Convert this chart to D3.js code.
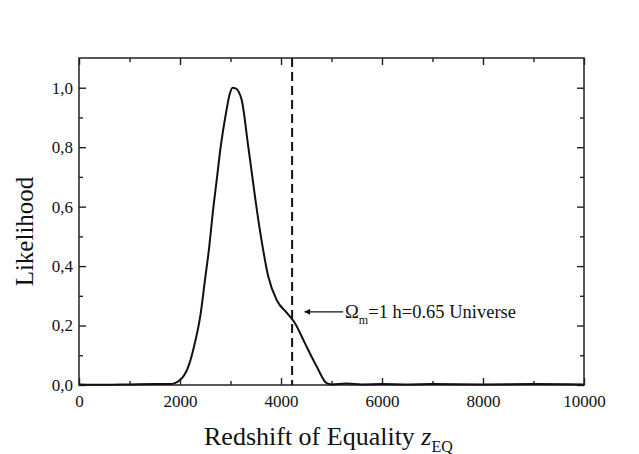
<!DOCTYPE html>
<html>
<head>
<meta charset="utf-8">
<script src="https://cdn.jsdelivr.net/npm/d3@7"></script>
<style>
  body { margin: 0; background: #fff; }
  svg { display: block; font-family: "Liberation Serif", "Times New Roman", serif; }
</style>
</head>
<body>
<svg id="svg" width="639" height="454"></svg>
<script>
// redshift of equality vs likelihood
var zEq = [0, 500, 1000, 1500, 1800, 2000, 2165, 2277, 2410, 2495, 2580, 2648, 2727, 2806, 2911, 2990,
    3040, 3100, 3220, 3353, 3571, 3749, 3914, 4125, 4277, 4475, 4707, 4905, 5000, 5300, 5600, 6000,
    6500, 7000, 8000, 9000, 10000];
var likelihood = [0.002, 0.001, 0.002, 0.003, 0.003, 0.017, 0.062, 0.129, 0.241, 0.354, 0.466, 0.578, 0.69, 0.802, 0.915, 0.982,
    1.0, 0.998, 0.96, 0.80, 0.533, 0.364, 0.286, 0.241, 0.208, 0.14, 0.062, 0.006, 0.002, 0.005, 0.002, 0.003,
    0.002, 0.003, 0.002, 0.003, 0.002];

var xTicks = [0, 2000, 4000, 6000, 8000, 10000];
var xMinor = [1000, 3000, 5000, 7000, 9000];
var yTicks = [0, 0.2, 0.4, 0.6, 0.8, 1.0];
var yTickLabels = ["0,0", "0,2", "0,4", "0,6", "0,8", "1,0"];
var yMinor = [0.1, 0.3, 0.5, 0.7, 0.9];

var universeZ = 4220;           // dashed line
var arrowFrom = [5230, 0.246];  // annotation arrow, data units
var arrowTo = [4470, 0.246];

var svg = d3.select("#svg");
var padding = {top: 58, right: 55, bottom: 69, left: 79};
var chartArea = {
    width: 639 - padding.left - padding.right,
    height: 454 - padding.top - padding.bottom
};

var xScale = d3.scaleLinear().domain([0, 10000]).range([0, chartArea.width]);
var yScale = d3.scaleLinear().domain([0, 1.1]).range([chartArea.height, 0]);

var g = svg.append("g")
    .attr("transform", "translate(" + padding.left + "," + padding.top + ")");

// axes, ticks pointing inward on all four sides
function styleAxis(sel) {
    sel.select(".domain").remove();
    sel.selectAll("line").attr("stroke", "#222").attr("stroke-width", 1.4);
    sel.selectAll("text").attr("fill", "#111").style("font-size", "17px")
        .style("font-family", "Liberation Serif, serif");
}

g.append("g")
    .attr("transform", "translate(0," + chartArea.height + ")")
    .call(d3.axisBottom(xScale).tickValues(xTicks).tickSize(-7).tickPadding(10).tickFormat(d3.format("d")))
    .call(styleAxis);
g.append("g")
    .attr("transform", "translate(0," + chartArea.height + ")")
    .call(d3.axisBottom(xScale).tickValues(xMinor).tickSize(-4).tickFormat(""))
    .call(styleAxis);
g.append("g")
    .call(d3.axisTop(xScale).tickValues(xTicks).tickSize(-7).tickFormat(""))
    .call(styleAxis);
g.append("g")
    .call(d3.axisTop(xScale).tickValues(xMinor).tickSize(-4).tickFormat(""))
    .call(styleAxis);

g.append("g")
    .call(d3.axisLeft(yScale).tickValues(yTicks).tickSize(-7).tickPadding(6)
        .tickFormat(function(d, i) { return yTickLabels[i]; }))
    .call(styleAxis);
g.append("g")
    .call(d3.axisLeft(yScale).tickValues(yMinor).tickSize(-4).tickFormat(""))
    .call(styleAxis);
g.append("g")
    .attr("transform", "translate(" + chartArea.width + ",0)")
    .call(d3.axisRight(yScale).tickValues(yTicks).tickSize(-7).tickFormat(""))
    .call(styleAxis);
g.append("g")
    .attr("transform", "translate(" + chartArea.width + ",0)")
    .call(d3.axisRight(yScale).tickValues(yMinor).tickSize(-4).tickFormat(""))
    .call(styleAxis);

// frame
g.append("rect")
    .attr("width", chartArea.width)
    .attr("height", chartArea.height)
    .attr("fill", "none")
    .attr("stroke", "#222")
    .attr("stroke-width", 1.5);

// dashed reference line
g.append("line")
    .attr("x1", xScale(universeZ)).attr("x2", xScale(universeZ))
    .attr("y1", 0).attr("y2", chartArea.height)
    .attr("stroke", "#111")
    .attr("stroke-width", 2)
    .attr("stroke-dasharray", "9,5");

// likelihood curve
var line = d3.line()
    .x(function(d, i) { return xScale(zEq[i]); })
    .y(function(d) { return yScale(d); })
    .curve(d3.curveMonotoneX);

g.append("path")
    .datum(likelihood)
    .attr("d", line)
    .attr("fill", "none")
    .attr("stroke", "#111")
    .attr("stroke-width", 2);

// annotation
svg.append("defs").append("marker")
    .attr("id", "arrow")
    .attr("viewBox", "0 0 10 10")
    .attr("refX", 9).attr("refY", 5)
    .attr("markerWidth", 10).attr("markerHeight", 6)
    .attr("markerUnits", "userSpaceOnUse")
    .attr("orient", "auto")
    .append("path")
    .attr("d", "M0,0 L10,5 L0,10 Z")
    .attr("fill", "#111");

g.append("line")
    .attr("x1", xScale(arrowFrom[0])).attr("y1", yScale(arrowFrom[1]))
    .attr("x2", xScale(arrowTo[0])).attr("y2", yScale(arrowTo[1]))
    .attr("stroke", "#111")
    .attr("stroke-width", 1.2)
    .attr("marker-end", "url(#arrow)");

var note = g.append("text")
    .attr("x", xScale(arrowFrom[0]) + 2)
    .attr("y", yScale(arrowFrom[1]) + 6)
    .attr("fill", "#111")
    .style("font-size", "18.5px");
note.append("tspan").text("Ω");
note.append("tspan").attr("dy", 6).style("font-size", "12px").text("m");
note.append("tspan").attr("dy", -6).text("=1 h=0.65 Universe");

// axis titles
svg.append("text")
    .attr("transform", "translate(33," + (padding.top + chartArea.height / 2 + 10) + ") rotate(-90)")
    .attr("text-anchor", "middle")
    .attr("fill", "#111")
    .style("font-size", "25px")
    .text("Likelihood");

var xTitle = svg.append("text")
    .attr("x", 204)
    .attr("y", 445)
    .attr("fill", "#111")
    .style("font-size", "26px");
xTitle.append("tspan").text("Redshift of Equality ");
xTitle.append("tspan").style("font-style", "italic").text("z");
xTitle.append("tspan").attr("dy", 7).style("font-size", "16px").text("EQ");
</script>
</body>
</html>
